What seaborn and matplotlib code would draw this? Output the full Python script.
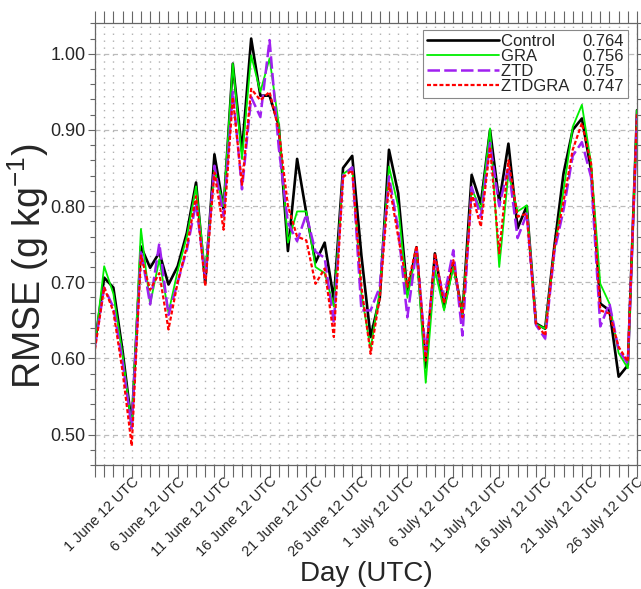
import numpy as np
import pandas as pd
import matplotlib
matplotlib.use('Agg')
import matplotlib.pyplot as plt
from matplotlib.ticker import MultipleLocator, FixedLocator
import seaborn as sns

# day index 0 = 28 May 12 UTC ... 59 = 26 July 12 UTC
days = list(range(60))
tick_days = [4, 9, 14, 19, 24, 29, 34, 39, 44, 49, 54, 59]
tick_labels = ['1 June 12 UTC', '6 June 12 UTC', '11 June 12 UTC', '16 June 12 UTC',
               '21 June 12 UTC', '26 June 12 UTC', '1 July 12 UTC', '6 July 12 UTC',
               '11 July 12 UTC', '16 July 12 UTC', '21 July 12 UTC', '26 July 12 UTC']

experiments = ['Control', 'GRA', 'ZTD', 'ZTDGRA']
mean_rmse = ['0.764', '0.756', '0.75', '0.747']

control = [0.620, 0.706, 0.693, 0.610, 0.513, 0.747, 0.719, 0.739, 0.697, 0.721,
           0.765, 0.831, 0.699, 0.868, 0.796, 0.987, 0.872, 1.020, 0.945, 0.945,
           0.906, 0.741, 0.862, 0.791, 0.726, 0.752, 0.677, 0.850, 0.866, 0.735,
           0.628, 0.680, 0.874, 0.817, 0.685, 0.746, 0.588, 0.738, 0.667, 0.724,
           0.658, 0.841, 0.803, 0.900, 0.805, 0.882, 0.771, 0.800, 0.646, 0.639,
           0.747, 0.843, 0.900, 0.915, 0.847, 0.672, 0.663, 0.576, 0.591, 0.926]
gra = [0.618, 0.721, 0.685, 0.605, 0.510, 0.770, 0.671, 0.730, 0.660, 0.715,
       0.760, 0.826, 0.712, 0.848, 0.800, 0.987, 0.862, 0.998, 0.950, 0.994,
       0.908, 0.752, 0.793, 0.793, 0.720, 0.712, 0.668, 0.842, 0.851, 0.685,
       0.612, 0.690, 0.852, 0.800, 0.680, 0.742, 0.568, 0.716, 0.663, 0.720,
       0.658, 0.823, 0.795, 0.902, 0.720, 0.843, 0.793, 0.801, 0.645, 0.639,
       0.740, 0.821, 0.904, 0.933, 0.856, 0.698, 0.672, 0.607, 0.587, 0.926]
ztd = [0.616, 0.693, 0.667, 0.595, 0.508, 0.742, 0.671, 0.751, 0.657, 0.700,
       0.743, 0.804, 0.705, 0.853, 0.787, 0.950, 0.822, 0.943, 0.917, 1.018,
       0.877, 0.778, 0.754, 0.789, 0.740, 0.732, 0.646, 0.840, 0.851, 0.663,
       0.663, 0.694, 0.839, 0.770, 0.654, 0.744, 0.606, 0.729, 0.680, 0.742,
       0.630, 0.825, 0.786, 0.883, 0.800, 0.852, 0.758, 0.790, 0.644, 0.626,
       0.740, 0.795, 0.866, 0.884, 0.838, 0.642, 0.672, 0.611, 0.593, 0.917]
ztdgra = [0.612, 0.693, 0.662, 0.583, 0.485, 0.735, 0.690, 0.712, 0.638, 0.700,
          0.747, 0.813, 0.695, 0.844, 0.769, 0.943, 0.828, 0.954, 0.939, 0.950,
          0.900, 0.800, 0.760, 0.755, 0.698, 0.718, 0.628, 0.838, 0.847, 0.694,
          0.606, 0.680, 0.830, 0.760, 0.694, 0.748, 0.597, 0.738, 0.672, 0.729,
          0.654, 0.817, 0.773, 0.878, 0.738, 0.860, 0.786, 0.790, 0.646, 0.630,
          0.745, 0.806, 0.874, 0.909, 0.856, 0.663, 0.659, 0.615, 0.596, 0.922]

df = pd.DataFrame({
    'day': days * 4,
    'rmse': control + gra + ztd + ztdgra,
    'exp': np.repeat(experiments, len(days)),
})

colors = {'Control': 'black', 'GRA': '#00ee00', 'ZTD': '#a020f0', 'ZTDGRA': '#ff0000'}
dashes = {'Control': '', 'GRA': '', 'ZTD': (5, 1.7), 'ZTDGRA': (1.8, 1.0)}
widths = {'Control': 1.9, 'GRA': 1.3, 'ZTD': 1.8, 'ZTDGRA': 1.6}

sns.set_style('ticks')
plt.rcParams['font.family'] = ['Liberation Sans', 'DejaVu Sans']
plt.rcParams['mathtext.default'] = 'regular'

fig = plt.figure(figsize=(6.41, 5.89), dpi=100)
ax = fig.add_axes([0.1482, 0.2105, 0.8456, 0.7499])

sns.lineplot(data=df, x='day', y='rmse', hue='exp', style='exp', size='exp',
             palette=colors, dashes=dashes, sizes=widths, hue_order=experiments,
             style_order=experiments, size_order=experiments,
             estimator=None, sort=False, legend=False, ax=ax)

ax.set_xlim(0, 59)
ax.set_ylim(0.46, 1.04)

ax.xaxis.set_major_locator(FixedLocator(tick_days))
ax.set_xticklabels(tick_labels, rotation=45, ha='right', va='top',
                   rotation_mode='anchor', fontsize=10.5)
ax.xaxis.set_minor_locator(MultipleLocator(1))
ax.yaxis.set_major_locator(MultipleLocator(0.1))
ax.yaxis.set_minor_locator(MultipleLocator(0.02))
ax.yaxis.set_major_formatter(matplotlib.ticker.FormatStrFormatter('%.2f'))

ax.tick_params(axis='both', which='both', direction='out', top=True, right=True,
               color='#666666', width=0.8)
ax.tick_params(axis='x', which='both', length=8.5, pad=-2)
ax.tick_params(axis='y', which='major', length=5, labelsize=13, pad=2)
ax.tick_params(axis='y', which='minor', length=3.5)
for s in ax.spines.values():
    s.set_color('#666666')
    s.set_linewidth(0.9)

ax.grid(axis='x', which='both', linestyle=(0, (1, 4)), color='#b0b0b0', linewidth=1.0)
ax.grid(axis='y', which='major', linestyle=(0, (4, 3)), color='#bbbbbb', linewidth=0.9)
ax.set_axisbelow(True)

ax.set_xlabel('Day (UTC)', fontsize=20)
ax.xaxis.set_label_coords(0.5, -0.217)
ax.set_ylabel('RMSE (g kg$^{-1}$)', fontsize=27)
ax.yaxis.set_label_coords(-0.082, 0.45)

handles = ax.get_lines()[:4]
labels = [e.ljust(18) for e in experiments]
leg = ax.legend(handles, labels, loc='upper right', bbox_to_anchor=(0.983, 0.985),
                borderaxespad=0, handlelength=4.3, handletextpad=0.1,
                labelspacing=0.0, fontsize=12, frameon=True, fancybox=False,
                edgecolor='#888888', framealpha=1, borderpad=0.25)
leg.get_frame().set_linewidth(0.8)

for txt, val in zip(leg.get_texts(), mean_rmse):
    ax.annotate(val, xy=((582 - 95) / 542, 0.5), xycoords=(ax.transAxes, txt),
                va='center', ha='left', fontsize=12, zorder=10)

fig.savefig('out.png', dpi=100)
